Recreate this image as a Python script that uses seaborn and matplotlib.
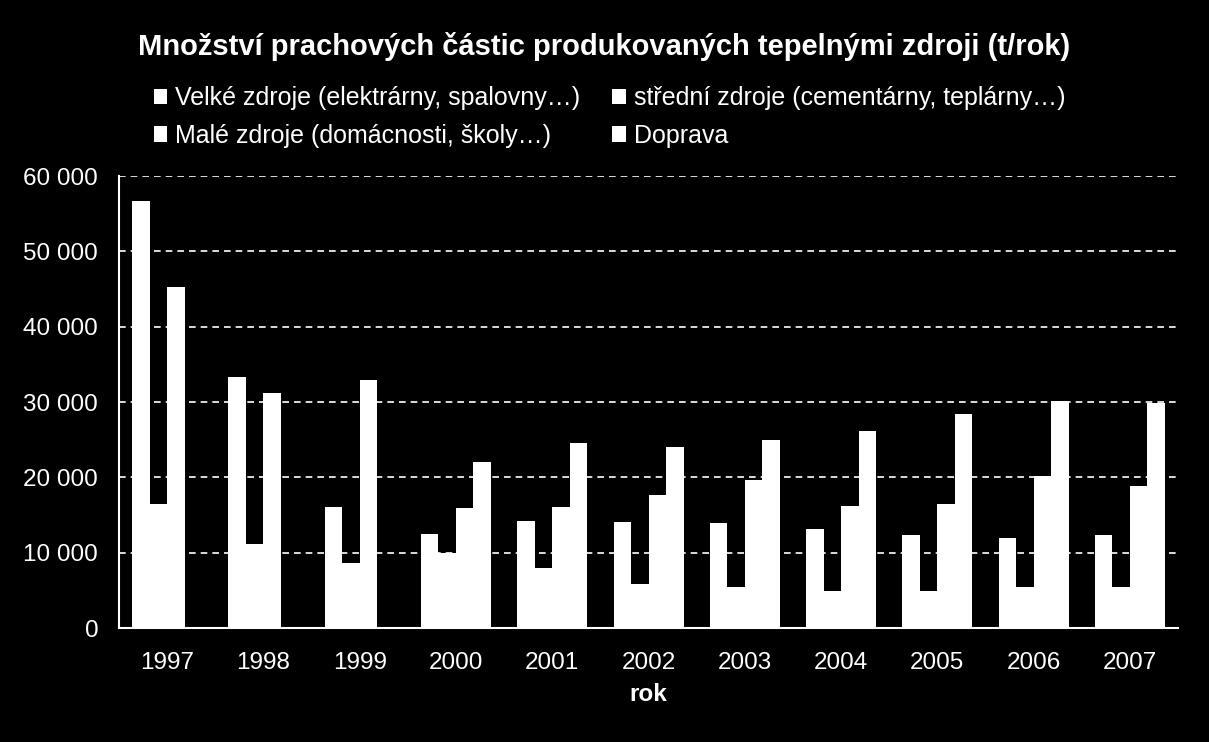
import numpy as np
import pandas as pd
import matplotlib
matplotlib.use("Agg")
import matplotlib.pyplot as plt
import seaborn as sns
from matplotlib.patches import Rectangle
from matplotlib.ticker import FuncFormatter

years = ["1997", "1998", "1999", "2000", "2001", "2002", "2003", "2004", "2005", "2006", "2007"]
series = [
    "Velké zdroje (elektrárny, spalovny…)",
    "střední zdroje (cementárny, teplárny…)",
    "Malé zdroje (domácnosti, školy…)",
    "Doprava",
]
velke = [56700, 33300, 16100, 12500, 14200, 14100, 13900, 13100, 12300, 11900, 12300]
stredni = [16500, 11200, 8600, 9960, 7960, 5840, 5440, 4900, 4900, 5400, 5400]
male = [45300, 31200, 32900, 15900, 16100, 17700, 19600, 16200, 16500, 20200, 18800]
doprava = [np.nan, np.nan, np.nan, 22000, 24600, 24000, 24900, 26100, 28400, 30100, 29900]

title = "Množství prachových částic produkovaných tepelnými zdroji (t/rok)"
xlabel = "rok"

df = pd.DataFrame({
    "rok": years * 4,
    "zdroj": sum([[s] * len(years) for s in series], []),
    "hodnota": velke + stredni + male + doprava,
})

sns.set_theme(style="white")
plt.rcParams["font.family"] = ["Liberation Sans", "DejaVu Sans"]

fig = plt.figure(figsize=(12.09, 7.42), dpi=100, facecolor="black")
ax = fig.add_axes([0.0984, 0.1536, 0.876, 0.6092])
ax.set_facecolor("black")

sns.barplot(data=df, x="rok", y="hodnota", hue="zdroj", hue_order=series,
            order=years, palette=["white"] * 4, width=0.727, dodge=True,
            saturation=1, linewidth=0, legend=False, errorbar=None, ax=ax)

ax.set_ylim(0, 60000)
ax.set_yticks(np.arange(0, 60001, 10000))
ax.yaxis.set_major_formatter(FuncFormatter(lambda v, p: f"{int(v):,}".replace(",", " ")))
ax.grid(axis="y", color="white", linestyle=(0, (4, 3)), linewidth=1.2)
ax.set_axisbelow(True)
for s in ["top", "right"]:
    ax.spines[s].set_visible(False)
for s in ["left", "bottom"]:
    ax.spines[s].set_color("white")
    ax.spines[s].set_linewidth(1.5)
ax.tick_params(axis="both", length=0, colors="white", labelsize=17.5)
ax.tick_params(axis="y", pad=15)
ax.tick_params(axis="x", pad=17)
ax.set_ylabel("")
ax.set_xlabel(xlabel, color="white", fontsize=17.5, fontweight="bold", labelpad=7)

fig.text(0.5, 0.938, title, color="white", fontsize=21, fontweight="bold",
         ha="center", va="center")

handles = [Rectangle((0, 0), 1, 1, facecolor="white", edgecolor="none") for _ in series]
order = [0, 2, 1, 3]
leg = fig.legend([handles[i] for i in order], [series[i] for i in order], ncol=2,
                 loc="upper left", bbox_to_anchor=(0.127, 0.884), frameon=False,
                 fontsize=18, labelcolor="white", handlelength=0.55,
                 handleheight=0.55, handletextpad=0.3, columnspacing=1.3,
                 labelspacing=0.55, borderaxespad=0, borderpad=0)

fig.savefig("out.png", dpi=100, facecolor="black")
